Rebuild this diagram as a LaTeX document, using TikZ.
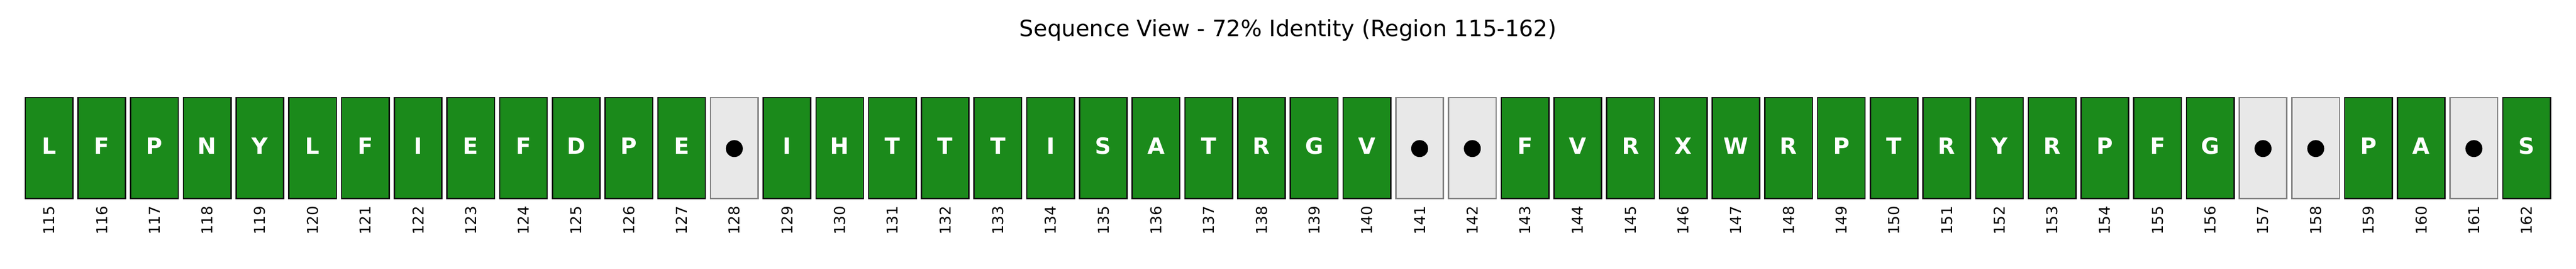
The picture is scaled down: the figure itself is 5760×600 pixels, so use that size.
\documentclass[tikz,border=0pt]{standalone}
\usepackage{fontspec}
\setmainfont{DejaVu Sans}
\usepackage{xcolor}
\usepackage{tikz}
\definecolor{resfill}{HTML}{1B8A1B}
\definecolor{resedge}{HTML}{111111}
\definecolor{gapfill}{HTML}{E8E8E8}
\definecolor{gapedge}{HTML}{808080}
\tikzset{
  resbox/.style={draw=resedge, fill=resfill, line width=0.72pt, inner sep=0pt,
    minimum width=25.51pt, minimum height=54.07pt},
  gapbox/.style={resbox, draw=gapedge, fill=gapfill},
  gapdot/.style={circle, fill=black, inner sep=0pt, minimum size=9.1pt},
  reslab/.style={text=white, font=\fontsize{12}{14}\selectfont\bfseries, inner sep=0pt, anchor=base},
  numlab/.style={text=black, font=\fontsize{8}{9.6}\selectfont, inner sep=0pt, rotate=90},
  titletext/.style={text=black, font=\fontsize{12}{14}\selectfont, inner sep=0pt, anchor=base}
}

\begin{document}
\begin{tikzpicture}[x=0.24pt, y=-0.24pt]
  \useasboundingbox (0,0) rectangle (5760,600);
  \node[titletext] (title) at (2880,81.7) {Sequence View - 72\% Identity (Region 115-162)};
  % one box per position, '-' marks a gap
  \foreach \res [count=\i from 0] in {L,F,P,N,Y,L,F,I,E,F,D,P,E,-,I,H,T,T,T,I,S,A,T,R,G,V,-,-,F,V,R,X,W,R,P,T,R,Y,R,P,F,G,-,-,P,A,-,S}{
    \pgfmathsetmacro{\x}{109.65+117.87*\i}
    \pgfmathtruncatemacro{\num}{115+\i}
    \if\res-
      \node[gapbox] (b\num) at (\x,330.2) {};
      \node[gapdot] (d\num) at (\x,331.5) {};
    \else
      \node[resbox] (b\num) at (\x,330.2) {};
      \node[reslab] (l\num) at (\x,344.2) {\res};
    \fi
    \node[numlab] (n\num) at (\x,492) {\num};
  }
\end{tikzpicture}
\end{document}
